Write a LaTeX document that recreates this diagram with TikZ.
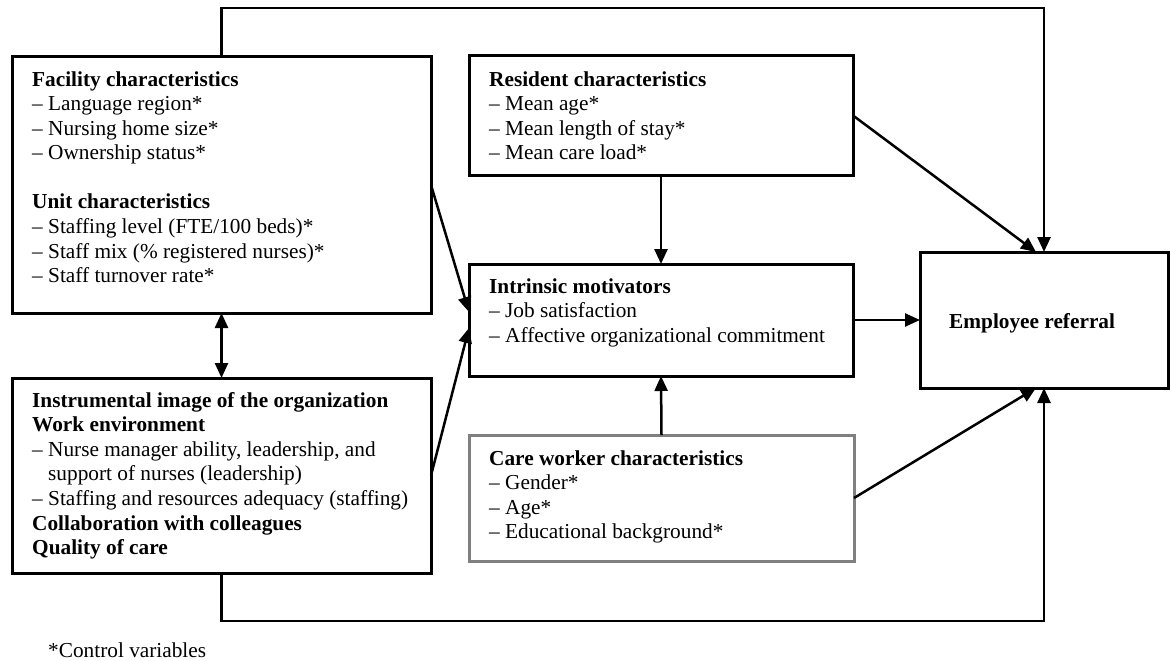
\documentclass[tikz,border=0pt]{standalone}
\usepackage{fontspec}
\setmainfont{Liberation Serif}
\usetikzlibrary{arrows.meta,calc}
\newcommand{\hd}[1]{\textbf{#1}}
\begin{document}
\begin{tikzpicture}[x=1pt,y=-1pt,
  box/.style={draw=black,line width=3pt,rectangle,inner sep=0pt,outer sep=0pt,anchor=north west},
  graybox/.style={box,draw={rgb,255:red,128;green,128;blue,128}},
  txt/.style={anchor=base west,inner sep=0pt,font=\fontsize{21.3}{24.6}\selectfont},
  arr/.style={line width=2.5pt,-{Triangle[length=15pt,width=13pt]}},
  darr/.style={line width=2.5pt,{Triangle[length=15pt,width=13pt]}-{Triangle[length=15pt,width=13pt]}}]
\useasboundingbox (0,0) rectangle (1170,661);
% boxes
\node[box,minimum width=419pt,minimum height=256pt] (fac) at (12,57) {};
\node[box,minimum width=419pt,minimum height=195pt] (ins) at (12,378) {};
\node[box,minimum width=384pt,minimum height=119pt] (res) at (469,56) {};
\node[box,minimum width=384pt,minimum height=112pt] (int) at (469,264) {};
\node[graybox,minimum width=385pt,minimum height=126pt] (care) at (469,435) {};
\node[box,minimum width=248pt,minimum height=136pt] (emp) at (920,252) {};
% texts
\node[txt] (factxt) at (32,86) {\begin{tabular}[t]{@{}l@{}}
\hd{Facility characteristics}\\
– Language region*\\
– Nursing home size*\\
– Ownership status*\\
\\
\hd{Unit characteristics}\\
– Staffing level (FTE/100 beds)*\\
– Staff mix (\% registered nurses)*\\
– Staff turnover rate*
\end{tabular}};
\node[txt] (instxt) at (32,407) {\begin{tabular}[t]{@{}l@{}}
\hd{Instrumental image of the organization}\\
\hd{Work environment}\\
– Nurse manager ability, leadership, and\\
\phantom{– }support of nurses (leadership)\\
– Staffing and resources adequacy (staffing)\\
\hd{Collaboration with colleagues}\\
\hd{Quality of care}
\end{tabular}};
\node[txt] (restxt) at (489,86) {\begin{tabular}[t]{@{}l@{}}
\hd{Resident characteristics}\\
– Mean age*\\
– Mean length of stay*\\
– Mean care load*
\end{tabular}};
\node[txt] (inttxt) at (489,293) {\begin{tabular}[t]{@{}l@{}}
\hd{Intrinsic motivators}\\
– Job satisfaction\\
– Affective organizational commitment
\end{tabular}};
\node[txt] (caretxt) at (489,465) {\begin{tabular}[t]{@{}l@{}}
\hd{Care worker characteristics}\\
– Gender*\\
– Age*\\
– Educational background*
\end{tabular}};
\node[txt] (emptxt) at (949,328) {\hd{Employee referral}};
\node[txt] (note) at (48,657) {*Control variables};
% connectors
\coordinate (topc) at (1044,8);
\coordinate (botc) at (1044,621);
\draw[arr] (fac.north) |- (topc) -- (emp.north);
\draw[arr] (ins.south) |- (botc) -- (emp.south);
\draw[arr] (res.east) -- ([xshift=-8pt]emp.north);
\draw[arr] (care.east) -- ([xshift=-8pt]emp.south);
\draw[arr] (int.east) -- (emp.west);
\draw[arr] (res.south) -- (int.north);
\draw[arr] (care.north) -- (int.south);
\draw[arr] (fac.east) -- ([yshift=8pt]int.west);
\draw[arr] (ins.east) -- ([yshift=-8pt]int.west);
\draw[darr] (fac.south) -- (ins.north);
\end{tikzpicture}
\end{document}
